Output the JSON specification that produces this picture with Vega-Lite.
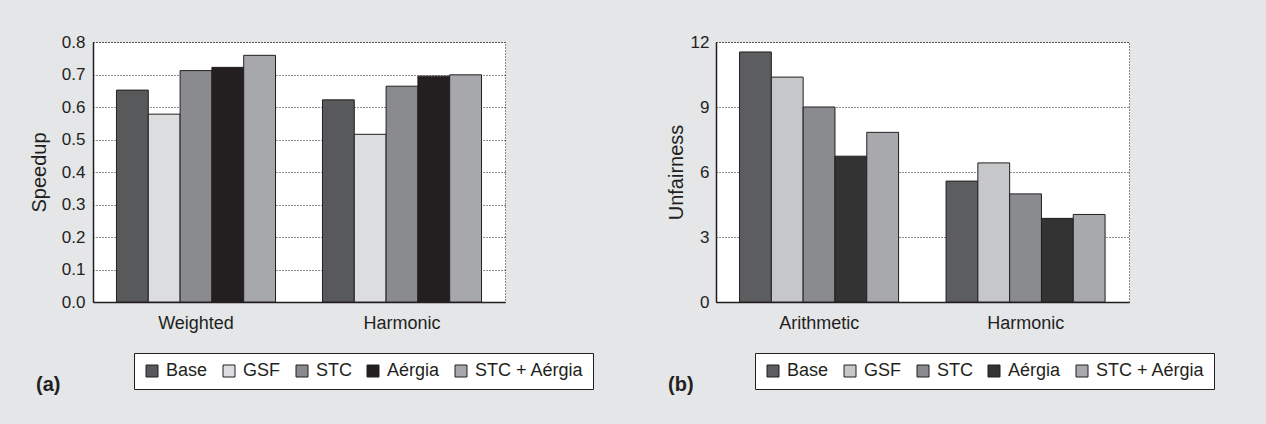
{
  "$schema": "https://vega.github.io/schema/vega-lite/v6.json",
  "background": "#e5e6e8",
  "padding": {"left": 28, "top": 32, "right": 150, "bottom": 32},
  "config": {
    "font": "Liberation Sans",
    "view": {"fill": "#ffffff", "stroke": "#231f20", "strokeDash": [1, 2], "strokeWidth": 1},
    "axis": {
      "labelFont": "Liberation Sans",
      "titleFont": "Liberation Sans",
      "labelColor": "#231f20",
      "titleColor": "#231f20",
      "titleFontWeight": "normal",
      "domainColor": "#231f20",
      "domainWidth": 1.5,
      "gridColor": "#231f20",
      "gridDash": [1, 2],
      "gridOpacity": 1,
      "gridWidth": 1,
      "ticks": false,
      "tickSize": 0
    },
    "legend": {
      "orient": "none",
      "direction": "horizontal",
      "columns": 5,
      "fillColor": "#ffffff",
      "strokeColor": "#231f20",
      "padding": 9,
      "symbolType": "square",
      "symbolSize": 144,
      "symbolStrokeColor": "#231f20",
      "symbolStrokeWidth": 1,
      "symbolOpacity": 1,
      "labelFontSize": 18,
      "labelColor": "#231f20",
      "labelOffset": 5,
      "columnPadding": 12,
      "title": null
    },
    "title": {"fontSize": 20, "fontWeight": "bold", "color": "#231f20", "orient": "bottom", "anchor": "start", "frame": "group"}
  },
  "spacing": 71,
  "resolve": {"scale": {"color": "independent", "y": "independent"}, "legend": {"color": "independent"}},
  "hconcat": [
    {
      "width": 412,
      "height": 260,
      "title": {"text": "(a)", "dx": -57, "offset": -15},
      "data": {"values": [
        {"mean": "Weighted", "scheme": "Base", "value": 0.652},
        {"mean": "Weighted", "scheme": "GSF", "value": 0.578},
        {"mean": "Weighted", "scheme": "STC", "value": 0.712},
        {"mean": "Weighted", "scheme": "Aérgia", "value": 0.722},
        {"mean": "Weighted", "scheme": "STC + Aérgia", "value": 0.759},
        {"mean": "Harmonic", "scheme": "Base", "value": 0.622},
        {"mean": "Harmonic", "scheme": "GSF", "value": 0.516},
        {"mean": "Harmonic", "scheme": "STC", "value": 0.664},
        {"mean": "Harmonic", "scheme": "Aérgia", "value": 0.695},
        {"mean": "Harmonic", "scheme": "STC + Aérgia", "value": 0.699}
      ]},
      "mark": {"type": "bar", "stroke": "#231f20", "strokeWidth": 1},
      "encoding": {
        "x": {"field": "mean", "type": "nominal", "sort": ["Weighted", "Harmonic"],
              "scale": {"paddingInner": 0.228, "paddingOuter": 0.114},
              "axis": {"title": null, "labelAngle": 0, "labelFontSize": 18, "labelPadding": 12}},
        "xOffset": {"field": "scheme", "type": "nominal", "sort": ["Base", "GSF", "STC", "Aérgia", "STC + Aérgia"], "scale": {"paddingInner": 0, "paddingOuter": 0}},
        "y": {"field": "value", "type": "quantitative", "scale": {"domain": [0, 0.8], "nice": false},
              "axis": {"title": "Speedup", "values": [0, 0.1, 0.2, 0.3, 0.4, 0.5, 0.6, 0.7, 0.8], "format": ".1f",
                       "labelFontSize": 17, "labelPadding": 8, "titleFontSize": 20, "titlePadding": 12}},
        "color": {"field": "scheme", "type": "nominal",
                  "scale": {"domain": ["Base", "GSF", "STC", "Aérgia", "STC + Aérgia"], "range": ["#58595b", "#dcdddf", "#8a8b8e", "#231f20", "#a7a8ab"]},
                  "legend": {"legendX": 41, "legendY": 311}}
      }
    },
    {
      "width": 413,
      "height": 260,
      "title": {"text": "(b)", "dx": -48, "offset": -15},
      "data": {"values": [
        {"mean": "Arithmetic", "scheme": "Base", "value": 11.54},
        {"mean": "Arithmetic", "scheme": "GSF", "value": 10.38},
        {"mean": "Arithmetic", "scheme": "STC", "value": 9.0},
        {"mean": "Arithmetic", "scheme": "Aérgia", "value": 6.73},
        {"mean": "Arithmetic", "scheme": "STC + Aérgia", "value": 7.83},
        {"mean": "Harmonic", "scheme": "Base", "value": 5.58},
        {"mean": "Harmonic", "scheme": "GSF", "value": 6.42},
        {"mean": "Harmonic", "scheme": "STC", "value": 4.99},
        {"mean": "Harmonic", "scheme": "Aérgia", "value": 3.86},
        {"mean": "Harmonic", "scheme": "STC + Aérgia", "value": 4.04}
      ]},
      "mark": {"type": "bar", "stroke": "#231f20", "strokeWidth": 1},
      "encoding": {
        "x": {"field": "mean", "type": "nominal", "sort": ["Arithmetic", "Harmonic"],
              "scale": {"paddingInner": 0.228, "paddingOuter": 0.114},
              "axis": {"title": null, "labelAngle": 0, "labelFontSize": 18, "labelPadding": 12}},
        "xOffset": {"field": "scheme", "type": "nominal", "sort": ["Base", "GSF", "STC", "Aérgia", "STC + Aérgia"], "scale": {"paddingInner": 0, "paddingOuter": 0}},
        "y": {"field": "value", "type": "quantitative", "scale": {"domain": [0, 12], "nice": false},
              "axis": {"title": "Unfairness", "values": [0, 3, 6, 9, 12], "format": "d",
                       "labelFontSize": 17, "labelPadding": 7, "titleFontSize": 20, "titlePadding": 4}},
        "color": {"field": "scheme", "type": "nominal",
                  "scale": {"domain": ["Base", "GSF", "STC", "Aérgia", "STC + Aérgia"], "range": ["#5c5d5f", "#c6c7c9", "#8a8b8e", "#333333", "#a8a9ac"]},
                  "legend": {"legendX": 39, "legendY": 311}}
      }
    }
  ]
}
